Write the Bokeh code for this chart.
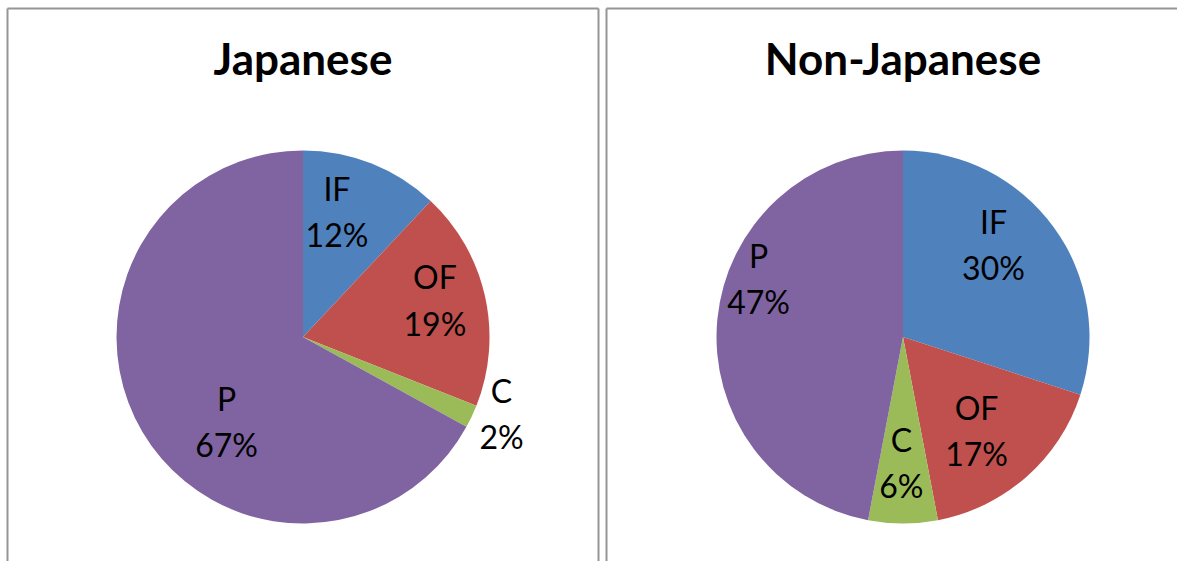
import math
from bokeh.plotting import figure
from bokeh.models import Range1d
from bokeh.core.properties import value
from bokeh.embed import file_html
from bokeh.resources import INLINE

# ---------------- data ----------------
titles = ["Japanese", "Non-Japanese"]
categories = ["IF", "OF", "C", "P"]
japanese = [12, 19, 2, 67]
non_japanese = [30, 17, 6, 47]
colors = ["#4F81BD", "#C0504D", "#9BBB59", "#8064A2"]

# ---------------- layout (pixels, frame coordinates) ----------------
W, H = 1177, 561
S = 186.5                      # pixels per data unit (pie radius = 1)
CX0, CY0 = 302.5, 336.5        # left pie centre
PIE_GAP = 600.0                # horizontal distance between pie centres

def px2x(px):
    return (px - CX0) / S

def py2y(py):
    return (CY0 - py) / S

label_r = [[0.677, 0.729, 1.149, 0.627], [0.679, 0.655, 0.694, 0.828]]
label_nudge = [[-6.0, -1.4, -3.1, -18.6], [-8.4, 4.4, 0.7, 15.3]]
LABEL_DY = 4.0       # px upward correction for the label block
TITLE_Y = 57.0       # px, vertical middle of the title

p = figure(width=W, height=H, output_backend="svg", toolbar_location=None,
           x_range=Range1d(px2x(0), px2x(W)),
           y_range=Range1d(py2y(H), py2y(0)),
           min_border=0, outline_line_color=None)
p.axis.visible = False
p.grid.visible = False
p.background_fill_color = "white"
p.border_fill_color = "white"

# panel borders (left, top, right of each panel; no bottom edge visible)
bc = "#959595"
bx = [7, 598, 606]
top = 8
xs = [[px2x(bx[0]), px2x(bx[0])], [px2x(bx[0]), px2x(bx[1])], [px2x(bx[1]), px2x(bx[1])],
      [px2x(bx[2]), px2x(bx[2])], [px2x(bx[2]), px2x(W + 5)]]
ys = [[py2y(top), py2y(H + 5)], [py2y(top), py2y(top)], [py2y(top), py2y(H + 5)],
      [py2y(top), py2y(H + 5)], [py2y(top), py2y(top)]]
p.multi_line(xs, ys, line_color=bc, line_width=2)

for k, vals in enumerate([japanese, non_japanese]):
    cx = k * PIE_GAP / S
    total = float(sum(vals))
    cum = 0.0
    starts, ends, lx, ly, txt = [], [], [], [], []
    for i, v in enumerate(vals):
        f0 = cum / total
        f1 = (cum + v) / total
        cum += v
        starts.append(math.pi / 2 - 2 * math.pi * f0)
        ends.append(math.pi / 2 - 2 * math.pi * f1)
        mid = (f0 + f1) / 2 * 360.0 + label_nudge[k][i]
        a = math.radians(mid)
        lx.append(cx + label_r[k][i] * math.sin(a))
        ly.append(label_r[k][i] * math.cos(a) + LABEL_DY / S)
        txt.append(f"{categories[i]}\n{round(v / total * 100)}%")
    p.wedge(x=[cx] * 4, y=[0] * 4, radius=1, start_angle=starts, end_angle=ends,
            direction="clock", fill_color=colors, line_color=None)
    p.text(x=lx, y=ly, text=txt, text_align="center", text_baseline="middle",
           text_font=value("Lato"), text_font_size="32px", text_color="black",
           text_line_height=1.19)
    p.text(x=[cx], y=[py2y(TITLE_Y)], text=[titles[k]],
           text_align="center", text_baseline="middle",
           text_font=value("Lato"), text_font_style="bold",
           text_font_size="44px", text_color="black")

open("out.html", "w").write(file_html(p, INLINE))
